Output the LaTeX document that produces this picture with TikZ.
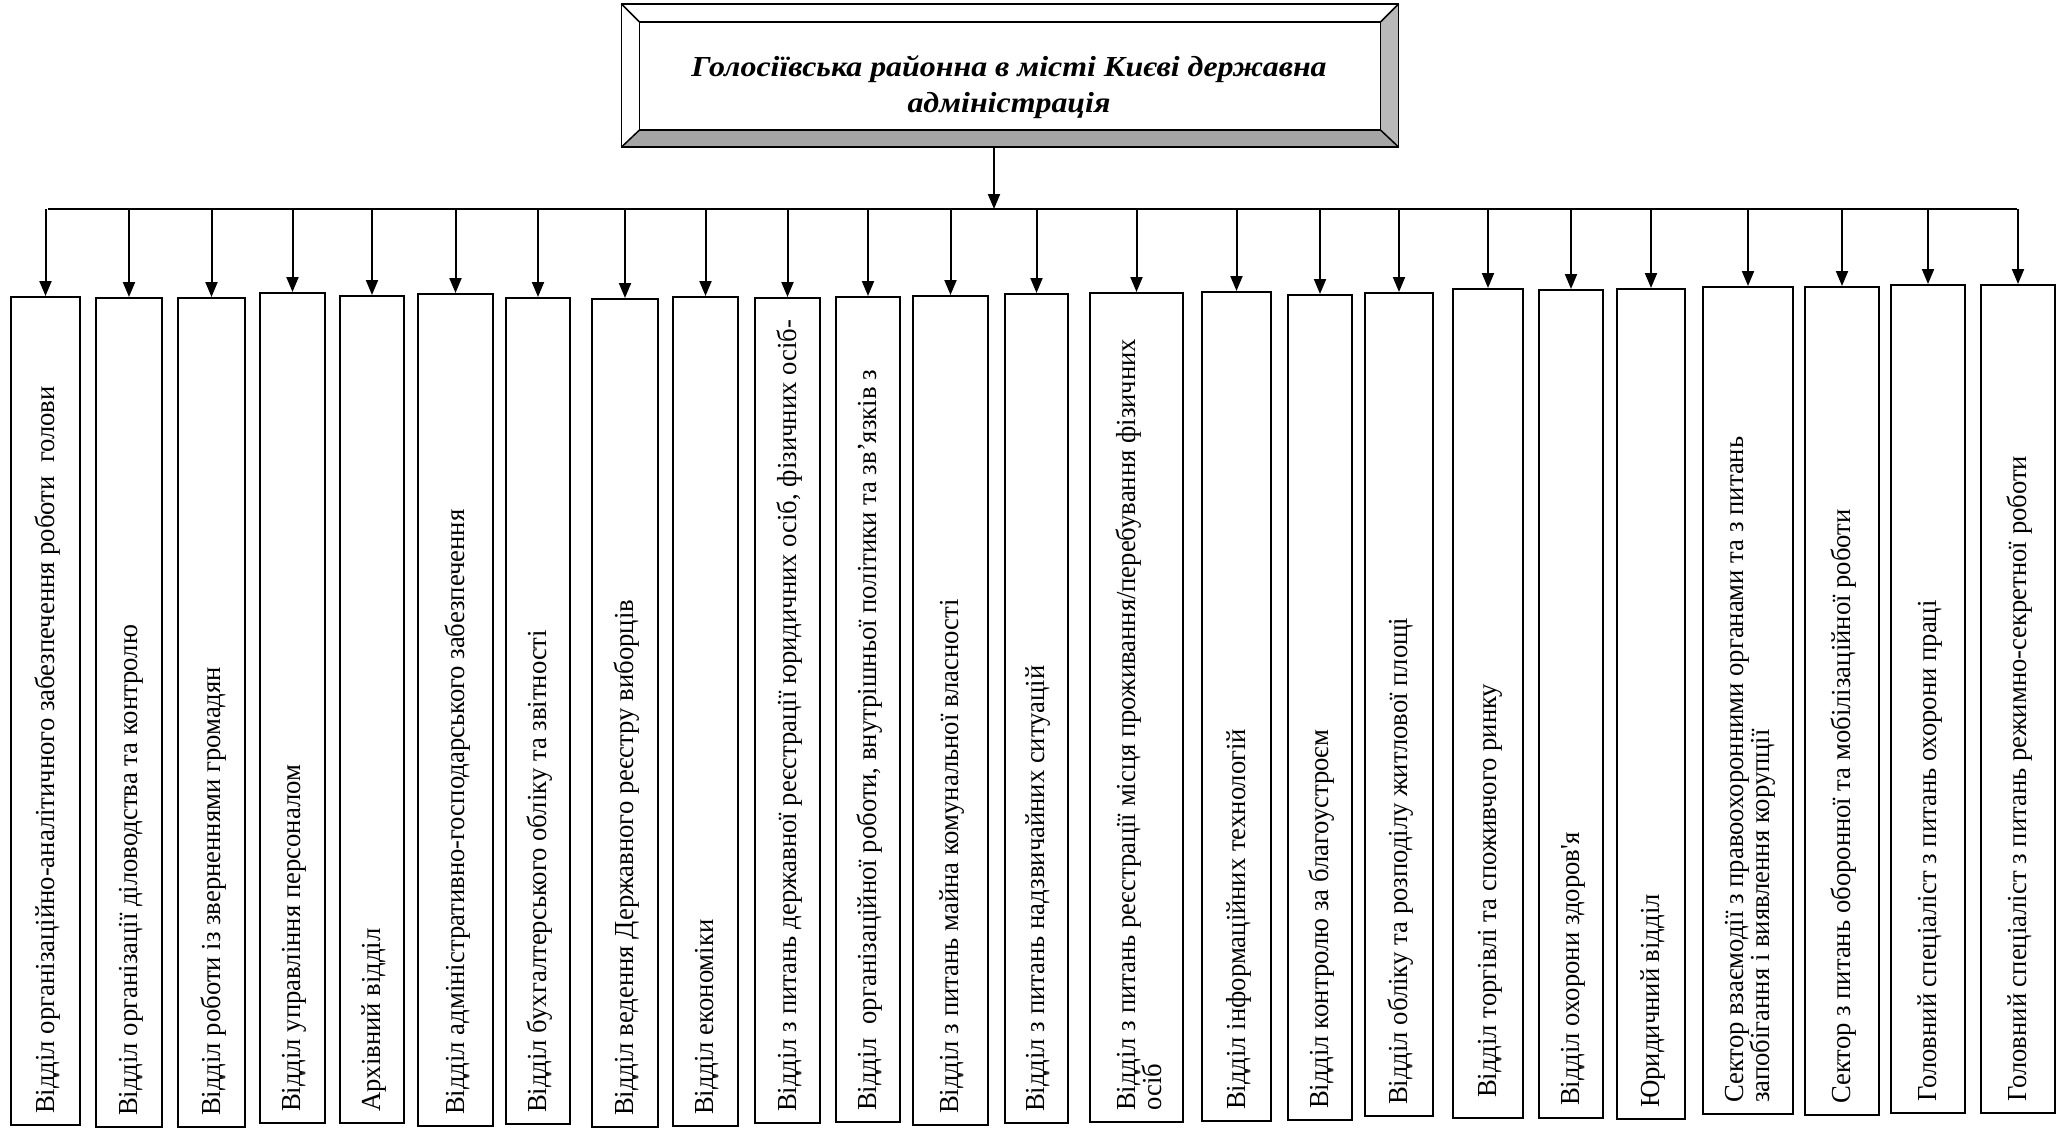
\documentclass[tikz,border=0pt]{standalone}
\usepackage{fontspec}
\setmainfont{Liberation Serif}
\newfontfamily\deptfont[FakeStretch=0.97]{Liberation Serif}
\newfontfamily\titlefont[FakeStretch=1.1]{Liberation Serif}
\usetikzlibrary{arrows.meta}
\definecolor{bevR}{RGB}{185,185,185}
\definecolor{bevB}{RGB}{165,165,165}
\newcommand{\dbox}[7]{%
  \node[deptbox, minimum width={#3-#2}, minimum height={#5-#4}] (#1) at ({(#2+#3)/2},{(#4+#5)/2}) {};
  \node[deptlbl, xshift=#6pt] (#1t) at (#1.south) {#7};
  \draw[arr] (#1.north |- busL) -- (#1.north);
}
\begin{document}
\begin{tikzpicture}[x=1pt,y=-1pt,
  deptbox/.style={draw, line width=2pt, inner sep=0pt, fill=white},
  deptlbl/.style={rotate=90, anchor=west, inner sep=0pt, yshift=-2pt, align=left, font=\deptfont\fontsize{27.5}{26}\selectfont},
  arr/.style={line width=2pt, -{Triangle[length=15pt,width=12pt]}},
  bevline/.style={line width=1.5pt, line join=miter}
]
\useasboundingbox[fill=white] (0,0) rectangle (2058,1129);

% head box with bevel
\node[minimum width=777pt, minimum height=143pt, inner sep=0pt] (head) at (1010,75.5) {};
\coordinate (inw) at ([xshift=18pt,yshift=-18pt]head.north west);
\coordinate (ine) at ([xshift=-18pt,yshift=-18pt]head.north east);
\coordinate (ise) at ([xshift=-18pt,yshift=17pt]head.south east);
\coordinate (isw) at ([xshift=18pt,yshift=17pt]head.south west);
\fill[bevR] (head.north east) -- (head.south east) -- (ise) -- (ine) -- cycle;
\fill[bevB] (head.south west) -- (head.south east) -- (ise) -- (isw) -- cycle;
\draw[bevline] (head.north west) rectangle (head.south east);
\draw[bevline] (inw) -- (ine) -- (ise) -- (isw) -- cycle;
\draw[bevline] (head.north west) -- (inw) (head.north east) -- (ine)
  (head.south east) -- (ise) (head.south west) -- (isw);
\node[font=\titlefont\fontsize{29}{36}\selectfont\bfseries\itshape, align=center] (title) at (1009,87)
  {Голосіївська районна в місті Києві державна\\адміністрація};

% bus
\coordinate (busL) at (48,209);
\coordinate (busR) at (2017,209);
\coordinate (busM) at (994,209);
\draw[line width=2pt] (busL) -- (busR);
\draw[arr] (head.south -| busM) -- (busM);

\dbox{b1}{11}{80}{297}{1125}{12}{Відділ організаційно-аналітичного забезпечення роботи \ голови}
\dbox{b2}{96}{162}{298}{1127}{12}{Відділ організації діловодства та контролю}
\dbox{b3}{178}{245}{298}{1127}{12}{Відділ роботи із зверненнями громадян}
\dbox{b4}{260}{325}{293}{1123}{12}{Відділ управління персоналом}
\dbox{b5}{340}{404}{296}{1123}{12}{Архівний відділ}
\dbox{b6}{418}{493}{294}{1126}{12}{Відділ адміністративно-господарського забезпечення}
\dbox{b7}{506}{570}{298}{1124}{12}{Відділ бухгалтерського обліку та звітності}
\dbox{b8}{592}{658}{299}{1127}{12}{Відділ ведення Державного реєстру виборців}
\dbox{b9}{673}{738}{297}{1126}{12}{Відділ економіки}
\dbox{b10}{755}{820}{298}{1123}{12}{Відділ з питань державної реєстрації юридичних осіб, фізичних осіб-}
\dbox{b11}{836}{900}{297}{1122}{12}{Відділ \ організаційної роботи, внутрішньої політики та зв’язків з}
\dbox{b12}{913}{988}{296}{1125}{12}{Відділ з питань майна комунальної власності}
\dbox{b13}{1005}{1068}{294}{1123}{12}{Відділ з питань надзвичайних ситуацій}
\dbox{b14}{1090}{1183}{293}{1122}{12}{Відділ з питань реєстрації місця проживання/перебування фізичних\\осіб}
\dbox{b15}{1202}{1271}{292}{1121}{12}{Відділ інформаційних технологій}
\dbox{b16}{1288}{1352}{295}{1120}{12}{Відділ контролю за благоустроєм}
\dbox{b17}{1365}{1433}{293}{1116}{12}{Відділ обліку та розподілу житлової площі}
\dbox{b18}{1453}{1523}{289}{1118}{21}{Відділ торгівлі та споживчого ринку}
\dbox{b19}{1539}{1603}{290}{1118}{13}{Відділ охорони здоров'я}
\dbox{b20}{1617}{1685}{289}{1119}{12}{Юридичний відділ}
\dbox{b21}{1703}{1793}{287}{1114}{12}{Сектор взаємодії з правоохоронними органами та з питань\\запобігання і виявлення корупції}
\dbox{b22}{1805}{1879}{287}{1115}{12}{Сектор з питань оборонної та мобілізаційної роботи}
\dbox{b23}{1891}{1965}{285}{1113}{12}{Головний спеціаліст з питань охорони праці}
\dbox{b24}{1981}{2055}{285}{1113}{12}{Головний спеціаліст з питань режимно-секретної роботи}
\end{tikzpicture}
\end{document}
